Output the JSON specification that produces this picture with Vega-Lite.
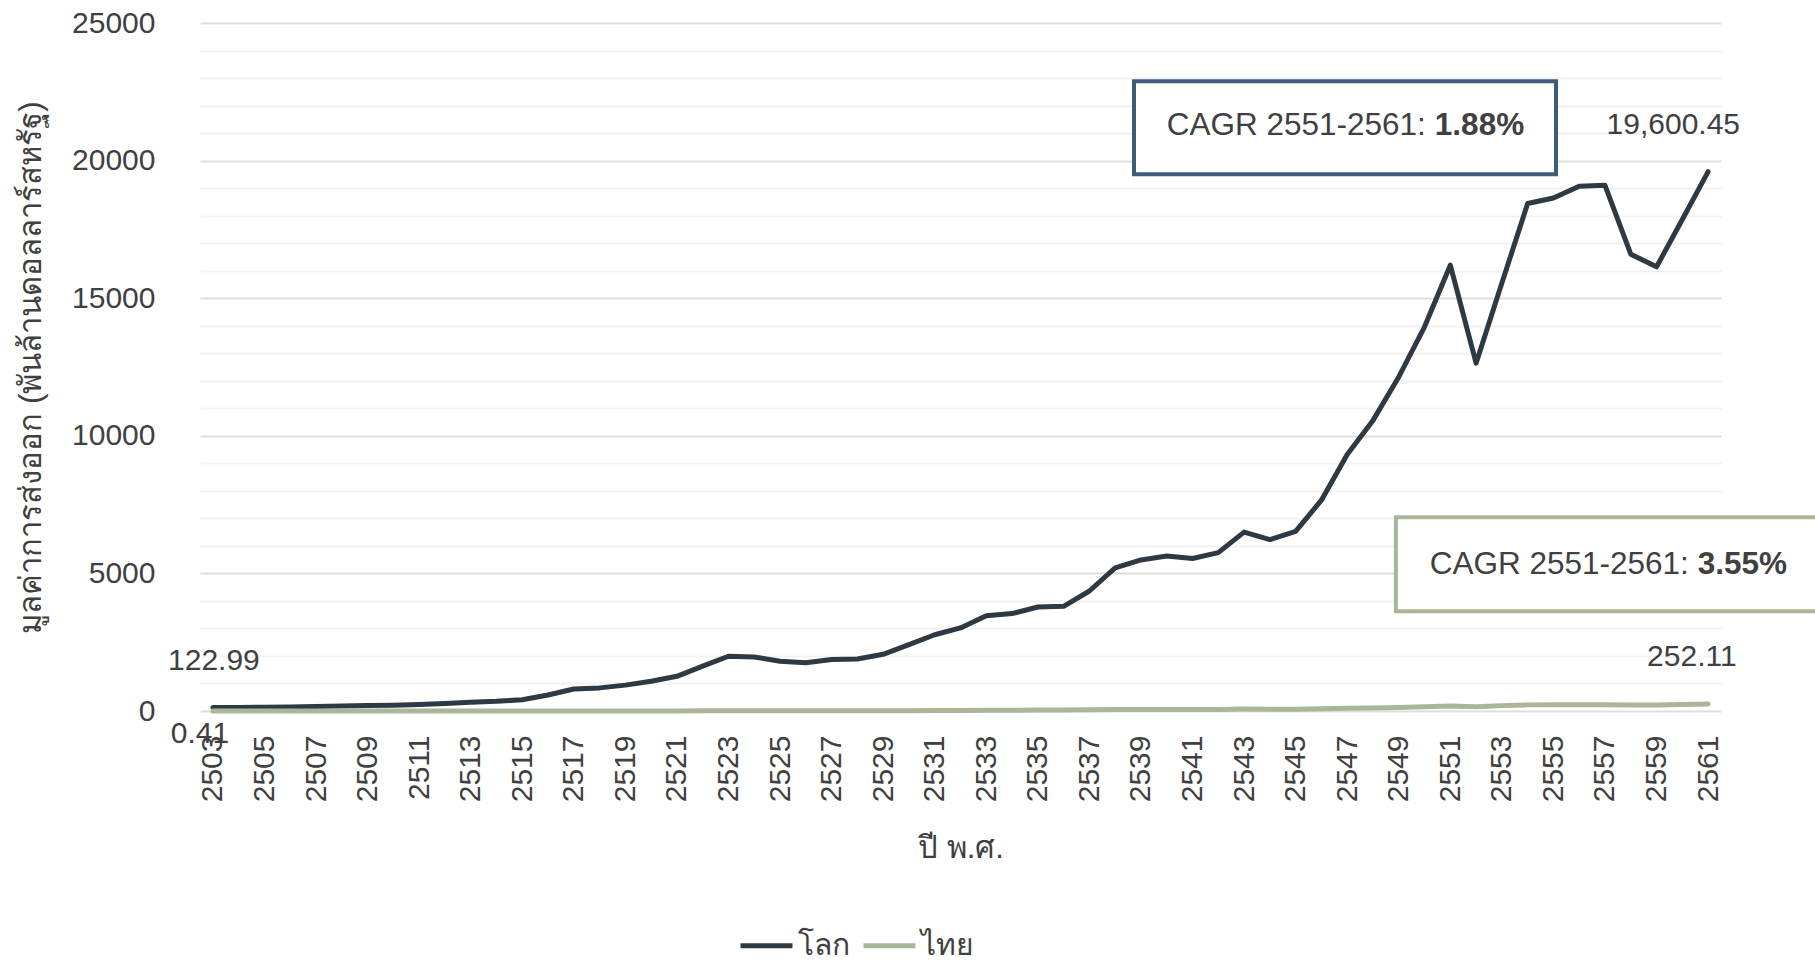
{
  "$schema": "https://vega.github.io/schema/vega-lite/v6.json",
  "width": 1521,
  "height": 688,
  "autosize": {"type": "none"},
  "padding": {"left": 200, "top": 23, "right": 94, "bottom": 251},
  "background": "white",
  "config": {"view": {"stroke": null}, "font": "Liberation Sans"},
  "datasets": {
    "series": [
      {"year": 2503, "series": "โลก", "value": 122.99},
      {"year": 2504, "series": "โลก", "value": 128},
      {"year": 2505, "series": "โลก", "value": 136},
      {"year": 2506, "series": "โลก", "value": 148},
      {"year": 2507, "series": "โลก", "value": 165},
      {"year": 2508, "series": "โลก", "value": 180},
      {"year": 2509, "series": "โลก", "value": 198},
      {"year": 2510, "series": "โลก", "value": 210},
      {"year": 2511, "series": "โลก", "value": 235},
      {"year": 2512, "series": "โลก", "value": 270},
      {"year": 2513, "series": "โลก", "value": 315},
      {"year": 2514, "series": "โลก", "value": 350},
      {"year": 2515, "series": "โลก", "value": 410},
      {"year": 2516, "series": "โลก", "value": 580},
      {"year": 2517, "series": "โลก", "value": 800},
      {"year": 2518, "series": "โลก", "value": 840},
      {"year": 2519, "series": "โลก", "value": 940},
      {"year": 2520, "series": "โลก", "value": 1080},
      {"year": 2521, "series": "โลก", "value": 1260},
      {"year": 2522, "series": "โลก", "value": 1630},
      {"year": 2523, "series": "โลก", "value": 1990},
      {"year": 2524, "series": "โลก", "value": 1965},
      {"year": 2525, "series": "โลก", "value": 1810},
      {"year": 2526, "series": "โลก", "value": 1750},
      {"year": 2527, "series": "โลก", "value": 1870},
      {"year": 2528, "series": "โลก", "value": 1890},
      {"year": 2529, "series": "โลก", "value": 2060},
      {"year": 2530, "series": "โลก", "value": 2410},
      {"year": 2531, "series": "โลก", "value": 2770},
      {"year": 2532, "series": "โลก", "value": 3020},
      {"year": 2533, "series": "โลก", "value": 3460},
      {"year": 2534, "series": "โลก", "value": 3540},
      {"year": 2535, "series": "โลก", "value": 3780},
      {"year": 2536, "series": "โลก", "value": 3805},
      {"year": 2537, "series": "โลก", "value": 4360},
      {"year": 2538, "series": "โลก", "value": 5200},
      {"year": 2539, "series": "โลก", "value": 5490},
      {"year": 2540, "series": "โลก", "value": 5630},
      {"year": 2541, "series": "โลก", "value": 5540},
      {"year": 2542, "series": "โลก", "value": 5755},
      {"year": 2543, "series": "โลก", "value": 6500},
      {"year": 2544, "series": "โลก", "value": 6230},
      {"year": 2545, "series": "โลก", "value": 6530},
      {"year": 2546, "series": "โลก", "value": 7660},
      {"year": 2547, "series": "โลก", "value": 9320},
      {"year": 2548, "series": "โลก", "value": 10560},
      {"year": 2549, "series": "โลก", "value": 12140},
      {"year": 2550, "series": "โลก", "value": 13960},
      {"year": 2551, "series": "โลก", "value": 16200},
      {"year": 2552, "series": "โลก", "value": 12640},
      {"year": 2553, "series": "โลก", "value": 15550},
      {"year": 2554, "series": "โลก", "value": 18440},
      {"year": 2555, "series": "โลก", "value": 18640},
      {"year": 2556, "series": "โลก", "value": 19070},
      {"year": 2557, "series": "โลก", "value": 19100},
      {"year": 2558, "series": "โลก", "value": 16600},
      {"year": 2559, "series": "โลก", "value": 16140},
      {"year": 2560, "series": "โลก", "value": 17860},
      {"year": 2561, "series": "โลก", "value": 19600.45},
      {"year": 2503, "series": "ไทย", "value": 0.41},
      {"year": 2504, "series": "ไทย", "value": 0.48},
      {"year": 2505, "series": "ไทย", "value": 0.46},
      {"year": 2506, "series": "ไทย", "value": 0.46},
      {"year": 2507, "series": "ไทย", "value": 0.59},
      {"year": 2508, "series": "ไทย", "value": 0.62},
      {"year": 2509, "series": "ไทย", "value": 0.69},
      {"year": 2510, "series": "ไทย", "value": 0.69},
      {"year": 2511, "series": "ไทย", "value": 0.65},
      {"year": 2512, "series": "ไทย", "value": 0.7},
      {"year": 2513, "series": "ไทย", "value": 0.71},
      {"year": 2514, "series": "ไทย", "value": 0.83},
      {"year": 2515, "series": "ไทย", "value": 1.08},
      {"year": 2516, "series": "ไทย", "value": 1.56},
      {"year": 2517, "series": "ไทย", "value": 2.45},
      {"year": 2518, "series": "ไทย", "value": 2.18},
      {"year": 2519, "series": "ไทย", "value": 2.98},
      {"year": 2520, "series": "ไทย", "value": 3.49},
      {"year": 2521, "series": "ไทย", "value": 4.08},
      {"year": 2522, "series": "ไทย", "value": 5.29},
      {"year": 2523, "series": "ไทย", "value": 6.5},
      {"year": 2524, "series": "ไทย", "value": 7.03},
      {"year": 2525, "series": "ไทย", "value": 6.95},
      {"year": 2526, "series": "ไทย", "value": 6.37},
      {"year": 2527, "series": "ไทย", "value": 7.41},
      {"year": 2528, "series": "ไทย", "value": 7.12},
      {"year": 2529, "series": "ไทย", "value": 8.87},
      {"year": 2530, "series": "ไทย", "value": 11.66},
      {"year": 2531, "series": "ไทย", "value": 15.9},
      {"year": 2532, "series": "ไทย", "value": 20.08},
      {"year": 2533, "series": "ไทย", "value": 23.07},
      {"year": 2534, "series": "ไทย", "value": 28.43},
      {"year": 2535, "series": "ไทย", "value": 32.47},
      {"year": 2536, "series": "ไทย", "value": 37.17},
      {"year": 2537, "series": "ไทย", "value": 45.26},
      {"year": 2538, "series": "ไทย", "value": 56.44},
      {"year": 2539, "series": "ไทย", "value": 55.72},
      {"year": 2540, "series": "ไทย", "value": 57.37},
      {"year": 2541, "series": "ไทย", "value": 54.46},
      {"year": 2542, "series": "ไทย", "value": 58.44},
      {"year": 2543, "series": "ไทย", "value": 69.06},
      {"year": 2544, "series": "ไทย", "value": 64.97},
      {"year": 2545, "series": "ไทย", "value": 68.11},
      {"year": 2546, "series": "ไทย", "value": 80.32},
      {"year": 2547, "series": "ไทย", "value": 96.25},
      {"year": 2548, "series": "ไทย", "value": 110.94},
      {"year": 2549, "series": "ไทย", "value": 130.58},
      {"year": 2550, "series": "ไทย", "value": 153.57},
      {"year": 2551, "series": "ไทย", "value": 177.84},
      {"year": 2552, "series": "ไทย", "value": 152.42},
      {"year": 2553, "series": "ไทย", "value": 195.31},
      {"year": 2554, "series": "ไทย", "value": 222.58},
      {"year": 2555, "series": "ไทย", "value": 229.24},
      {"year": 2556, "series": "ไทย", "value": 228.53},
      {"year": 2557, "series": "ไทย", "value": 227.52},
      {"year": 2558, "series": "ไทย", "value": 214.31},
      {"year": 2559, "series": "ไทย", "value": 215.33},
      {"year": 2560, "series": "ไทย", "value": 236.63},
      {"year": 2561, "series": "ไทย", "value": 252.11}
    ],
    "box1": [{"year": 2538.73, "year2": 2555.1, "value": 19504, "value2": 22883}],
    "box2": [{"year": 2548.89, "year2": 2566, "value": 3623, "value2": 7039}],
    "cagrText": [
      {"year": 2550.4, "value": 21248, "label": "CAGR 2551-2561:"},
      {"year": 2560.6, "value": 5295, "label": "CAGR 2551-2561:"}
    ],
    "cagrValue": [
      {"year": 2550.4, "value": 21248, "label": "1.88%"},
      {"year": 2560.6, "value": 5295, "label": "3.55%"}
    ],
    "endLabels": [
      {"year": 2559.65, "value": 21285, "label": "19,600.45"},
      {"year": 2503.04, "value": 1806, "label": "122.99"},
      {"year": 2560.37, "value": 1951, "label": "252.11"},
      {"year": 2502.5, "value": -847, "label": "0.41"}
    ]
  },
  "encoding": {
    "x": {
      "field": "year",
      "type": "quantitative",
      "title": "ปี พ.ศ.",
      "scale": {"domain": [2502.5, 2561.5], "nice": false, "zero": false},
      "axis": {
        "values": [2503, 2505, 2507, 2509, 2511, 2513, 2515, 2517, 2519, 2521, 2523, 2525, 2527, 2529, 2531, 2533, 2535, 2537, 2539, 2541, 2543, 2545, 2547, 2549, 2551, 2553, 2555, 2557, 2559, 2561],
        "format": "d",
        "labelAngle": 270,
        "ticks": false,
        "domain": false,
        "grid": false,
        "labelPadding": 24,
        "labelFontSize": 30,
        "labelColor": "#404040",
        "labelFlush": false,
        "labelOverlap": false,
        "titleFontSize": 31,
        "titleFontWeight": "normal",
        "titleColor": "#404040",
        "titlePadding": 32
      }
    },
    "y": {
      "field": "value",
      "type": "quantitative",
      "title": "มูลค่าการส่งออก (พันล้านดอลลาร์สหรัฐ)",
      "scale": {"domain": [0, 25000], "nice": false},
      "axis": {
        "values": [0, 1000, 2000, 3000, 4000, 5000, 6000, 7000, 8000, 9000, 10000, 11000, 12000, 13000, 14000, 15000, 16000, 17000, 18000, 19000, 20000, 21000, 22000, 23000, 24000, 25000],
        "format": "d",
        "labelExpr": "datum.value % 5000 === 0 ? datum.label : ''",
        "ticks": false,
        "domain": false,
        "labelPadding": 45,
        "labelFontSize": 30,
        "labelColor": "#404040",
        "gridColor": {"condition": {"test": "datum.value % 5000 === 0", "value": "#dedede"}, "value": "#f2f2f2"},
        "gridWidth": 2,
        "titleFontSize": 31,
        "titleFontWeight": "normal",
        "titleColor": "#404040",
        "titlePadding": 24
      }
    }
  },
  "layer": [
    {
      "data": {"name": "series"},
      "mark": {"type": "line", "strokeWidth": 5, "strokeCap": "round", "strokeJoin": "round"},
      "encoding": {
        "color": {
          "field": "series",
          "type": "nominal",
          "sort": ["โลก", "ไทย"],
          "scale": {"domain": ["โลก", "ไทย"], "range": ["#2d3943", "#a9b697"]},
          "legend": {
            "orient": "none",
            "legendX": 538,
            "legendY": 894,
            "direction": "horizontal",
            "title": null,
            "symbolType": "stroke",
            "symbolSize": 2700,
            "symbolStrokeWidth": 5,
            "labelFontSize": 30,
            "labelColor": "#404040",
            "labelOffset": 3,
            "columnPadding": 3
          }
        }
      }
    },
    {
      "data": {"name": "box1"},
      "mark": {"type": "rect", "fill": "white", "stroke": "#3e5b7a", "strokeWidth": 4},
      "encoding": {"x2": {"field": "year2"}, "y2": {"field": "value2"}}
    },
    {
      "data": {"name": "box2"},
      "mark": {"type": "rect", "fill": "white", "stroke": "#a9b697", "strokeWidth": 4},
      "encoding": {"x2": {"field": "year2"}, "y2": {"field": "value2"}}
    },
    {
      "data": {"name": "cagrText"},
      "mark": {"type": "text", "align": "right", "baseline": "middle", "dx": -9, "fontSize": 31.5, "color": "#404040"},
      "encoding": {"text": {"field": "label"}}
    },
    {
      "data": {"name": "cagrValue"},
      "mark": {"type": "text", "align": "left", "baseline": "middle", "fontSize": 31.5, "fontWeight": "bold", "color": "#404040"},
      "encoding": {"text": {"field": "label"}}
    },
    {
      "data": {"name": "endLabels"},
      "mark": {"type": "text", "align": "center", "baseline": "middle", "fontSize": 30, "color": "#404040"},
      "encoding": {"text": {"field": "label"}}
    }
  ]
}
